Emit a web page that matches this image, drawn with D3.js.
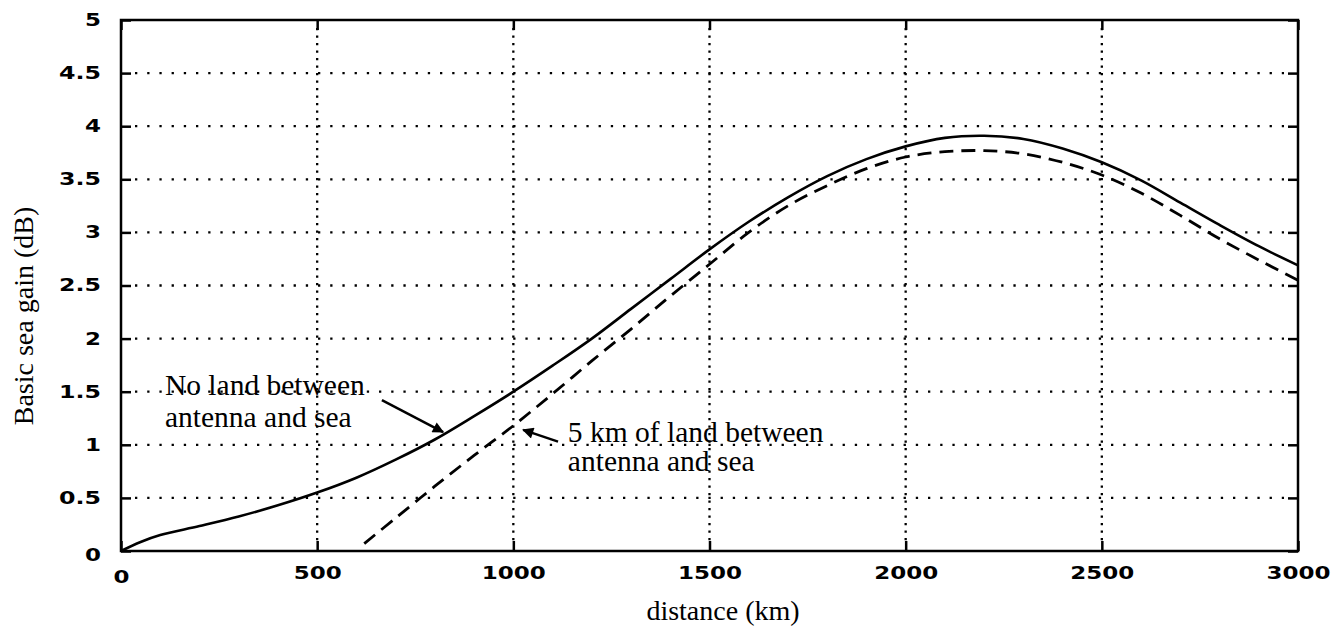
<!DOCTYPE html>
<html>
<head>
<meta charset="utf-8">
<script src="https://cdn.jsdelivr.net/npm/d3@7"></script>
<style>
  body { margin: 0; background: #fff; }
  svg { display: block; }
</style>
</head>
<body>
<div id="chart"></div>
<script>
// distance in km
const distances = [0, 50, 100, 200, 300, 400, 500, 600, 700, 800, 900, 1000, 1100, 1200, 1300, 1400, 1500,
    1600, 1700, 1800, 1900, 2000, 2100, 2200, 2300, 2400, 2500, 2600, 2700, 2800, 2900, 3000];
// no land between antenna and sea (solid)
const noLandGain = [0, 0.085, 0.15, 0.235, 0.325, 0.43, 0.55, 0.69, 0.86, 1.05, 1.27, 1.5, 1.745, 2.0, 2.28, 2.56, 2.84,
    3.1, 3.33, 3.53, 3.69, 3.81, 3.89, 3.91, 3.88, 3.79, 3.66, 3.49, 3.28, 3.07, 2.87, 2.69];

// 5 km of land (dashed)
const landDistances = [620, 700, 800, 900, 1000, 1100, 1200, 1300, 1400, 1500, 1600, 1700, 1800, 1900, 2000,
    2100, 2200, 2300, 2400, 2500, 2600, 2700, 2800, 2900, 3000];
const landGain = [0.07, 0.31, 0.61, 0.9, 1.18, 1.48, 1.79, 2.09, 2.4, 2.7, 3.0, 3.25, 3.44, 3.6, 3.71,
    3.76, 3.77, 3.74, 3.66, 3.54, 3.37, 3.16, 2.94, 2.74, 2.55];

const xTicks = [0, 500, 1000, 1500, 2000, 2500, 3000];
const yTicks = [0, 0.5, 1, 1.5, 2, 2.5, 3, 3.5, 4, 4.5, 5];
const yTickLabels = ["0", "0.5", "1", "1.5", "2", "2.5", "3", "3.5", "4", "4.5", "5"];

const width = 1334, height = 626;
const margin = { top: 20, right: 36, bottom: 75, left: 121 };

const svg = d3.select("#chart").append("svg")
    .attr("width", width)
    .attr("height", height);

const x = d3.scaleLinear().domain([0, 3000]).range([margin.left, width - margin.right]);
const y = d3.scaleLinear().domain([0, 5]).range([height - margin.bottom, margin.top]);

// grid, dotted
svg.append("g").selectAll("line")
    .data(yTicks.slice(1, -1))
    .enter().append("line")
    .attr("x1", x(0) + 14).attr("x2", x(3000) - 14)
    .attr("y1", d => y(d)).attr("y2", d => y(d))
    .attr("stroke", "#000")
    .attr("stroke-width", 2.3)
    .attr("stroke-dasharray", "2.3,9.9");

svg.append("g").selectAll("line")
    .data(xTicks.slice(1, -1))
    .enter().append("line")
    .attr("x1", d => x(d)).attr("x2", d => x(d))
    .attr("y1", y(5) + 8).attr("y2", y(0) - 8)
    .attr("stroke", "#000")
    .attr("stroke-width", 2.3)
    .attr("stroke-dasharray", "2.3,5.2");

// axes via d3 with inward ticks
const tickWidth = s => s.split("").reduce((a, c) => a + (c === "." ? 10 : 16), 0);

const gx = svg.append("g")
    .attr("transform", `translate(0,${y(0)})`)
    .call(d3.axisBottom(x).tickValues(xTicks).tickSize(-10).tickPadding(16).tickFormat(d3.format("d")));
const gy = svg.append("g")
    .attr("transform", `translate(${x(0)},0)`)
    .call(d3.axisLeft(y).tickValues(yTicks).tickSize(-10).tickPadding(20).tickFormat((d, i) => yTickLabels[i]));
svg.append("g")
    .attr("transform", `translate(0,${y(5)})`)
    .call(d3.axisTop(x).tickValues(xTicks).tickSize(-10).tickFormat(""));
svg.append("g")
    .attr("transform", `translate(${x(3000)},0)`)
    .call(d3.axisRight(y).tickValues(yTicks).tickSize(-10).tickFormat(""));

svg.selectAll(".domain").remove();
svg.selectAll(".tick line").attr("stroke", "#000").attr("stroke-width", 2.5);
svg.selectAll(".tick text")
    .attr("fill", "#000")
    .style("font-family", "'DejaVu Sans', sans-serif")
    .style("font-weight", "bold")
    .style("font-size", "17px")
    .attr("lengthAdjust", "spacingAndGlyphs")
    .attr("textLength", function () { return tickWidth(this.textContent); });

// zero labels sit a little off, like the original
gx.selectAll(".tick text").filter(d => d === 0).attr("y", 20);
gy.selectAll(".tick text").filter(d => d === 0).attr("dy", "0.55em");

// frame
svg.append("rect")
    .attr("x", x(0)).attr("y", y(5))
    .attr("width", x(3000) - x(0)).attr("height", y(0) - y(5))
    .attr("fill", "none")
    .attr("stroke", "#000")
    .attr("stroke-width", 2.5);

// curves
const line = d3.line().x(d => x(d[0])).y(d => y(d[1])).curve(d3.curveCatmullRom.alpha(0.5));

svg.append("path")
    .datum(distances.map((d, i) => [d, noLandGain[i]]))
    .attr("d", line)
    .attr("fill", "none")
    .attr("stroke", "#000")
    .attr("stroke-width", 2.6);

svg.append("path")
    .datum(landDistances.map((d, i) => [d, landGain[i]]))
    .attr("d", line)
    .attr("fill", "none")
    .attr("stroke", "#000")
    .attr("stroke-width", 2.8)
    .attr("stroke-dasharray", "14,8");

// annotations
svg.append("defs").append("marker")
    .attr("id", "arrow")
    .attr("viewBox", "0 0 10 10")
    .attr("refX", 9).attr("refY", 5)
    .attr("markerWidth", 6).attr("markerHeight", 4.5)
    .attr("orient", "auto")
    .attr("markerUnits", "strokeWidth")
    .append("path")
    .attr("d", "M0,0L10,5L0,10z")
    .attr("fill", "#000");

const notes = [
    { lines: ["No land between", "antenna and sea"], at: [112, 1.47], lh: 32, from: [665, 1.42], to: [821, 1.12] },
    { lines: ["5 km of land between", "antenna and sea"], at: [1139, 1.03], lh: 29, from: [1114, 1.03], to: [1025, 1.14] }
];

notes.forEach(n => {
    const t = svg.append("text")
        .attr("x", x(n.at[0])).attr("y", y(n.at[1]))
        .style("font-family", "'Liberation Serif', 'Times New Roman', serif")
        .style("font-size", "29.5px")
        .attr("fill", "#000");
    n.lines.forEach((l, i) => {
        t.append("tspan")
            .attr("x", x(n.at[0]))
            .attr("dy", i === 0 ? 0 : n.lh)
            .text(l);
    });
    svg.append("line")
        .attr("x1", x(n.from[0])).attr("y1", y(n.from[1]))
        .attr("x2", x(n.to[0])).attr("y2", y(n.to[1]))
        .attr("stroke", "#000")
        .attr("stroke-width", 2.5)
        .attr("marker-end", "url(#arrow)");
});

// axis titles
svg.append("text")
    .attr("x", 723).attr("y", 620)
    .attr("text-anchor", "middle")
    .style("font-family", "'Liberation Serif', 'Times New Roman', serif")
    .style("font-size", "28px")
    .text("distance (km)");

svg.append("text")
    .attr("transform", "translate(33,316) rotate(-90)")
    .attr("text-anchor", "middle")
    .style("font-family", "'Liberation Serif', 'Times New Roman', serif")
    .style("font-size", "28px")
    .text("Basic sea gain (dB)");
</script>
</body>
</html>
